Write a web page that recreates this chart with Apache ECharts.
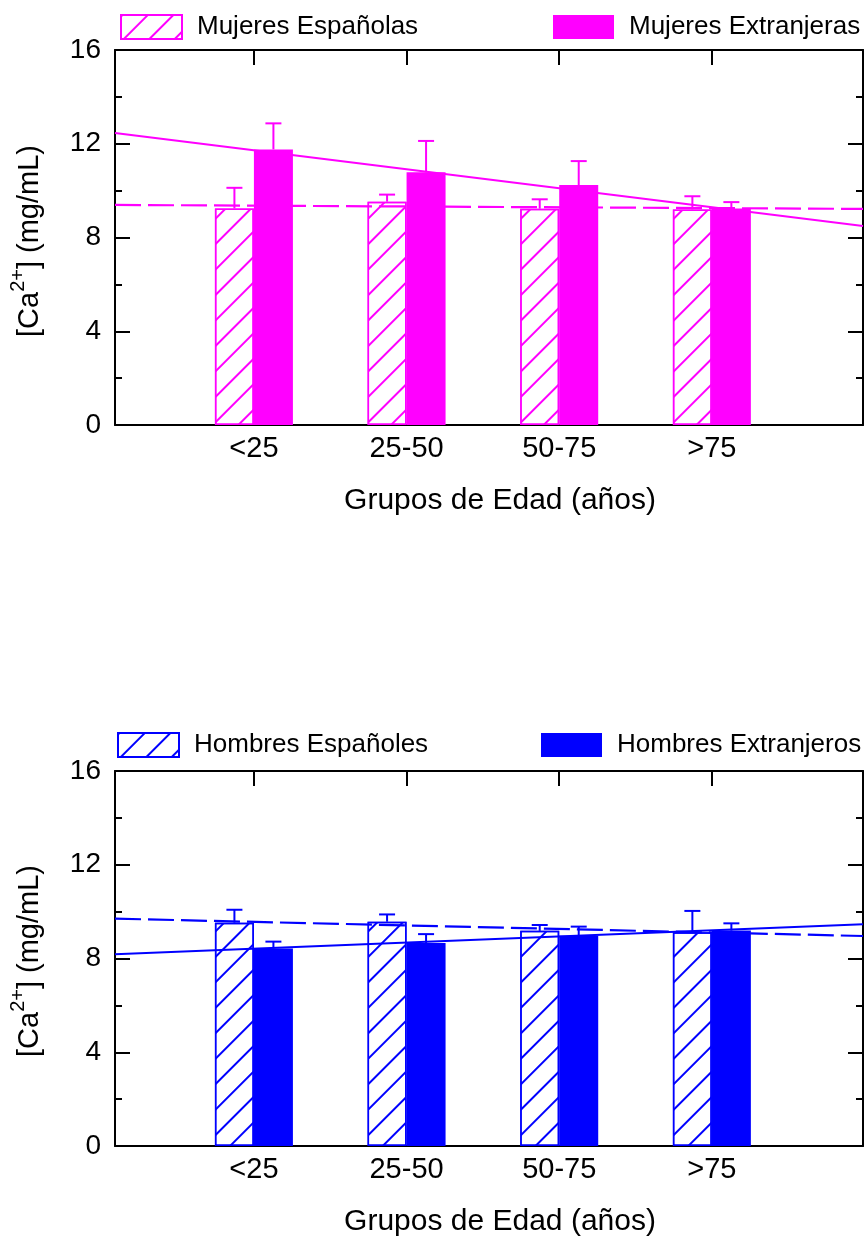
<!DOCTYPE html>
<html><head><meta charset="utf-8">
<script src="https://cdn.jsdelivr.net/npm/echarts@6/dist/echarts.min.js"></script>
<style>html,body{margin:0;padding:0;background:#fff}#c{width:865px;height:1236px}</style>
</head><body><div id="c"></div>
<script>
// ---------- data ----------
const categories = ['<25', '25-50', '50-75', '>75'];
const catPos = [1, 2, 3, 4];
const xRange = [0.09, 4.99];
const yTicks = [0, 4, 8, 12, 16];

const mujEsp   = [9.24, 9.53, 9.23, 9.20];
const mujEspSD = [0.88, 0.30, 0.40, 0.56];
const mujExt   = [11.76, 10.78, 10.24, 9.24];
const mujExtSD = [1.11, 1.34, 1.02, 0.27];
const mujExtTrend = [12.46, 8.49];
const mujEspTrend = [9.39, 9.22];

const homEsp   = [9.53, 9.57, 9.18, 9.12];
const homEspSD = [0.55, 0.31, 0.25, 0.91];
const homExt   = [8.43, 8.66, 8.97, 9.19];
const homExtSD = [0.29, 0.38, 0.39, 0.31];
const homExtTrend = [8.18, 9.46];
const homEspTrend = [9.70, 8.96];

// ---------- style ----------
const FONT = '"Liberation Sans", Arial, sans-serif';
const MAG = '#FF00FF', BLUE = '#0000FF';
const BAR_W = 39;

const panels = [
  { color: MAG, esp: 'Mujeres Españolas', ext: 'Mujeres Extranjeras',
    espV: mujEsp, espSD: mujEspSD, extV: mujExt, extSD: mujExtSD,
    extTrend: mujExtTrend, espTrend: mujEspTrend,
    top: 50, legTop: 14, leg1Left: 120, leg2Left: 553, titleY: 501, yTitleY: 241 },
  { color: BLUE, esp: 'Hombres Españoles', ext: 'Hombres Extranjeros',
    espV: homEsp, espSD: homEspSD, extV: homExt, extSD: homExtSD,
    extTrend: homExtTrend, espTrend: homEspTrend,
    top: 771, legTop: 732, leg1Left: 117, leg2Left: 541, titleY: 1222, yTitleY: 961 }
];

// measure text widths for the y-axis title with superscript
const mctx = document.createElement('canvas').getContext('2d');
function tw(t, size) { mctx.font = size + 'px "Liberation Sans"'; return mctx.measureText(t).width; }
const YT_MAIN = 29, YT_SUP = 20;
const yt1 = '[Ca', yt2 = '2+', yt3 = '] (mg/mL)';

const grid = [], xAxis = [], yAxis = [], series = [], legend = [], graphic = [];

const axisLine = { show: true, onZero: false, lineStyle: { color: '#000', width: 2 } };

panels.forEach((p, gi) => {
  grid.push({ left: 115, top: p.top, width: 748, height: 375 });
  xAxis.push({
    type: 'value', gridIndex: gi, position: 'bottom', min: xRange[0], max: xRange[1],
    axisLine: axisLine, splitLine: { show: false },
    axisTick: { show: false },
    axisLabel: { customValues: catPos, margin: 9, fontSize: 29, fontFamily: FONT, color: '#000',
      formatter: v => categories[catPos.indexOf(v)] }
  });
  xAxis.push({
    type: 'value', gridIndex: gi, position: 'top', min: xRange[0], max: xRange[1],
    axisLine: axisLine, splitLine: { show: false },
    axisTick: { show: true, inside: true, length: 15, customValues: catPos, lineStyle: { color: '#000', width: 2 } },
    axisLabel: { show: false }
  });
  const yBase = {
    type: 'value', gridIndex: gi, min: yTicks[0], max: yTicks[yTicks.length - 1], interval: 4,
    axisLine: axisLine, splitLine: { show: false },
    axisTick: { show: true, inside: true, length: 15, lineStyle: { color: '#000', width: 2 } },
    minorTick: { show: true, splitNumber: 2, length: 7, lineStyle: { color: '#000', width: 2 } },
    minorSplitLine: { show: false }
  };
  yAxis.push(Object.assign({}, yBase, { position: 'left',
    axisLabel: { margin: 14, fontSize: 28, fontFamily: FONT, color: '#000' } }));
  yAxis.push(Object.assign({}, yBase, { position: 'right', axisLabel: { show: false } }));

  const xi = gi * 2, yi = gi * 2;
  const C = p.color;
  series.push({
    name: p.esp, type: 'bar', xAxisIndex: xi, yAxisIndex: yi, barWidth: BAR_W, barGap: '0%',
    data: catPos.map((x, i) => [x, p.espV[i]]), z: 2,
    itemStyle: { color: '#fff', borderColor: C, borderWidth: 1.5,
      decal: { symbol: 'rect', symbolSize: 1, color: C, dashArrayX: [1, 0], dashArrayY: [1.5, 15.5], rotation: -Math.PI / 4 } }
  });
  series.push({
    name: p.ext, type: 'bar', xAxisIndex: xi, yAxisIndex: yi, barWidth: BAR_W, barGap: '0%',
    data: catPos.map((x, i) => [x, p.extV[i]]), z: 2,
    itemStyle: { color: C, borderWidth: 0 }
  });
  series.push({
    name: p.ext + ' ajuste', type: 'line', xAxisIndex: xi, yAxisIndex: yi, symbol: 'none', z: 4,
    data: [[xRange[0], p.extTrend[0]], [xRange[1], p.extTrend[1]]],
    lineStyle: { color: C, width: 2, type: 'solid' }, silent: true
  });
  series.push({
    name: p.esp + ' ajuste', type: 'line', xAxisIndex: xi, yAxisIndex: yi, symbol: 'none', z: 4,
    data: [[xRange[0], p.espTrend[0]], [xRange[1], p.espTrend[1]]],
    lineStyle: { color: C, width: 2.2, type: [26, 7] }, silent: true
  });
  [[p.espV, p.espSD, -BAR_W / 2, p.esp], [p.extV, p.extSD, BAR_W / 2, p.ext]].forEach(([vals, sds, off, nm]) => {
    series.push({
      name: nm + ' error', type: 'custom', xAxisIndex: xi, yAxisIndex: yi, z: 5, silent: true,
      encode: { x: 0, y: 1 },
      data: catPos.map((x, i) => [x, vals[i], sds[i]]),
      renderItem: (params, api) => {
        const x = api.value(0), v = api.value(1), e = api.value(2);
        const p0 = api.coord([x, v]), p1 = api.coord([x, v + e]);
        const cx = p0[0] + off;
        return { type: 'group', children: [
          { type: 'line', shape: { x1: cx, y1: p0[1], x2: cx, y2: p1[1] }, style: { stroke: C, lineWidth: 2 } },
          { type: 'line', shape: { x1: cx - 8, y1: p1[1], x2: cx + 8, y2: p1[1] }, style: { stroke: C, lineWidth: 2 } }
        ] };
      }
    });
  });
  const legBase = { orient: 'horizontal', top: p.legTop, itemWidth: 61, itemHeight: 24, icon: 'rect', padding: 0,
    selectedMode: false, textStyle: { fontSize: 26, fontFamily: FONT, color: '#000', padding: [0, 0, 0, 10] } };
  legend.push(Object.assign({}, legBase, { data: [p.esp], left: p.leg1Left }));
  legend.push(Object.assign({}, legBase, { data: [p.ext], left: p.leg2Left }));

  graphic.push({ type: 'text', x: 500, y: p.titleY, style: { text: 'Grupos de Edad (años)',
    font: '30px ' + FONT, fill: '#000', align: 'center', verticalAlign: 'middle' } });

  // rotated y title with superscript
  const w1 = tw(yt1, YT_MAIN), w2 = tw(yt2, YT_SUP), w3 = tw(yt3, YT_MAIN);
  const total = w1 + w2 + w3;
  const x0 = -total / 2;
  graphic.push({ type: 'group', x: 30, y: p.yTitleY, rotation: Math.PI / 2, children: [
    { type: 'text', x: x0, y: 0, style: { text: yt1, font: YT_MAIN + 'px ' + FONT, fill: '#000', align: 'left', verticalAlign: 'middle' } },
    { type: 'text', x: x0 + w1, y: -12, style: { text: yt2, font: YT_SUP + 'px ' + FONT, fill: '#000', align: 'left', verticalAlign: 'middle' } },
    { type: 'text', x: x0 + w1 + w2, y: 0, style: { text: yt3, font: YT_MAIN + 'px ' + FONT, fill: '#000', align: 'left', verticalAlign: 'middle' } }
  ] });
});

const chart = echarts.init(document.getElementById('c'), null, { renderer: 'canvas' });
chart.setOption({
  animation: false,
  backgroundColor: '#fff',
  textStyle: { fontFamily: FONT },
  grid, xAxis, yAxis, series, legend, graphic
});
</script>
</body></html>
